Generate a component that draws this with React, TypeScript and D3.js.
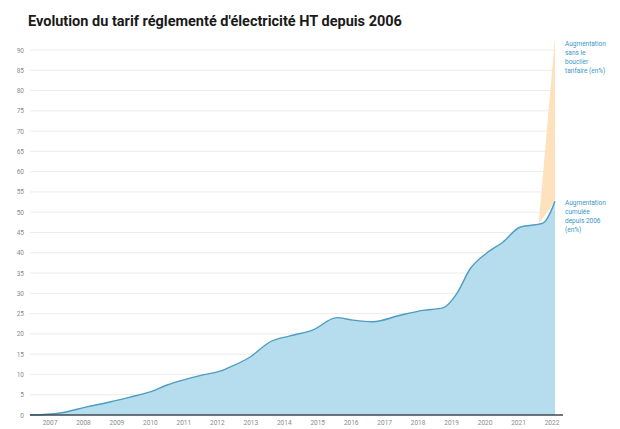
import React, { useEffect, useRef } from 'react';
import * as d3 from 'd3';

// years as fractions (month / 12), values = cumulative increase in %
const years: number[] = [
  2006.4, 2007.3, 2008.1, 2008.79, 2009.39, 2009.99, 2010.5, 2010.97, 2011.57,
  2012.08, 2012.29, 2012.98, 2013.57, 2014.17, 2014.86, 2015.57, 2016.05,
  2016.65, 2017.46, 2018.14, 2018.74, 2019.16, 2019.55, 2020.06, 2020.53,
  2021.04, 2021.73, 2022.09,
];
const cumulative: number[] = [
  0, 0.5, 2.0, 3.2, 4.4, 5.7, 7.4, 8.6, 9.9,
  10.8, 11.5, 14.3, 18, 19.5, 21, 24, 23.4,
  23, 24.6, 25.8, 26.4, 30, 36, 40, 42.6,
  46.3, 47.3, 52.7,
];
// without the "bouclier tarifaire"
const noShieldYears: number[] = [2021.6, 2022.09];
const noShieldValues: number[] = [47.1, 93];

const tickYears: number[] = [2007, 2008, 2009, 2010, 2011, 2012, 2013, 2014, 2015, 2016, 2017, 2018, 2019, 2020, 2021, 2022];
const yTicks: number[] = d3.range(0, 95, 5);

const labelTop: string[] = ['Augmentation', 'sans le', 'bouclier', 'tarifaire (en%)'];
const labelCum: string[] = ['Augmentation', 'cumulée', 'depuis 2006', '(en%)'];

const width = 620;
const height = 429;

const App: React.FC = () => {
  const ref = useRef<SVGSVGElement>(null);

  useEffect(() => {
    draw();
  }, []);

  function draw() {
    const svg = d3.select(ref.current);
    svg.selectAll('*').remove();

    const x = d3.scaleLinear()
      .domain([2007, 2022])
      .range([50, 552]);

    const y = d3.scaleLinear()
      .domain([0, 90])
      .range([415, 50]);

    const font = 'Roboto, "Open Sans", sans-serif';

    svg.append('text')
      .attr('x', 28)
      .attr('y', 26)
      .attr('font-family', font)
      .attr('font-weight', 700)
      .attr('font-size', 14.5)
      .attr('fill', '#1a1a1a')
      .text("Evolution du tarif réglementé d'électricité HT depuis 2006");

    // grid + y labels
    const yAxis = svg.append('g').attr('class', 'yAxis');
    yAxis.selectAll('line')
      .data(yTicks.filter((d) => d > 0))
      .enter()
      .append('line')
      .attr('x1', 30)
      .attr('x2', 555)
      .attr('y1', (d) => y(d))
      .attr('y2', (d) => y(d))
      .attr('stroke', '#ececec')
      .attr('stroke-width', 1);
    yAxis.selectAll('text')
      .data(yTicks)
      .enter()
      .append('text')
      .attr('x', 24)
      .attr('y', (d) => y(d) + 2.5)
      .attr('text-anchor', 'end')
      .attr('font-family', font)
      .attr('font-size', 6.5)
      .attr('fill', '#8a8a8a')
      .text((d) => d);

    const cumData = years.map((yr, i) => [yr, cumulative[i]] as [number, number]);
    const blueAt = (yr: number) => {
      const i = d3.bisector((d: [number, number]) => d[0]).left(cumData, yr);
      if (i <= 0) return cumData[0][1];
      if (i >= cumData.length) return cumData[cumData.length - 1][1];
      const a = cumData[i - 1];
      const b = cumData[i];
      return a[1] + ((yr - a[0]) / (b[0] - a[0])) * (b[1] - a[1]);
    };

    // orange band between the two lines
    const orangeData = noShieldYears.map((yr, i) => ({ yr, hi: noShieldValues[i], lo: blueAt(yr) }));
    svg.append('path')
      .datum(orangeData)
      .attr('fill', '#fde2bd')
      .attr('d', d3.area<any>()
        .x((d) => x(d.yr))
        .y0((d) => y(d.lo))
        .y1((d) => y(d.hi)));

    svg.append('path')
      .datum(cumData)
      .attr('fill', '#b6dded')
      .attr('d', d3.area<[number, number]>()
        .curve(d3.curveMonotoneX)
        .x((d) => x(d[0]))
        .y0(y(0))
        .y1((d) => y(d[1])));

    svg.append('path')
      .datum(cumData)
      .attr('fill', 'none')
      .attr('stroke', '#4d9dc3')
      .attr('stroke-width', 1.4)
      .attr('d', d3.line<[number, number]>()
        .curve(d3.curveMonotoneX)
        .x((d) => x(d[0]))
        .y((d) => y(d[1])));

    // x axis
    svg.append('line')
      .attr('x1', 30)
      .attr('x2', 563)
      .attr('y1', y(0))
      .attr('y2', y(0))
      .attr('stroke', '#3f4a52')
      .attr('stroke-width', 1.3);
    svg.append('g')
      .selectAll('text')
      .data(tickYears)
      .enter()
      .append('text')
      .attr('x', (d) => x(d))
      .attr('y', 425)
      .attr('text-anchor', 'middle')
      .attr('font-family', font)
      .attr('font-size', 6.5)
      .attr('fill', '#8a8a8a')
      .text((d) => d);

    const note = (lines: string[], top: number) => {
      svg.append('g')
        .selectAll('text')
        .data(lines)
        .enter()
        .append('text')
        .attr('x', 565)
        .attr('y', (d, i) => top + i * 9)
        .attr('font-family', font)
        .attr('font-size', 6.5)
        .attr('fill', '#3a96c8')
        .text((d) => d);
    };
    note(labelTop, 46);
    note(labelCum, 205);
  }

  return (
    <svg ref={ref} width={width} height={height} style={{ position: 'absolute', left: 0, top: 0, background: '#fff' }} />
  );
};

export default App;
